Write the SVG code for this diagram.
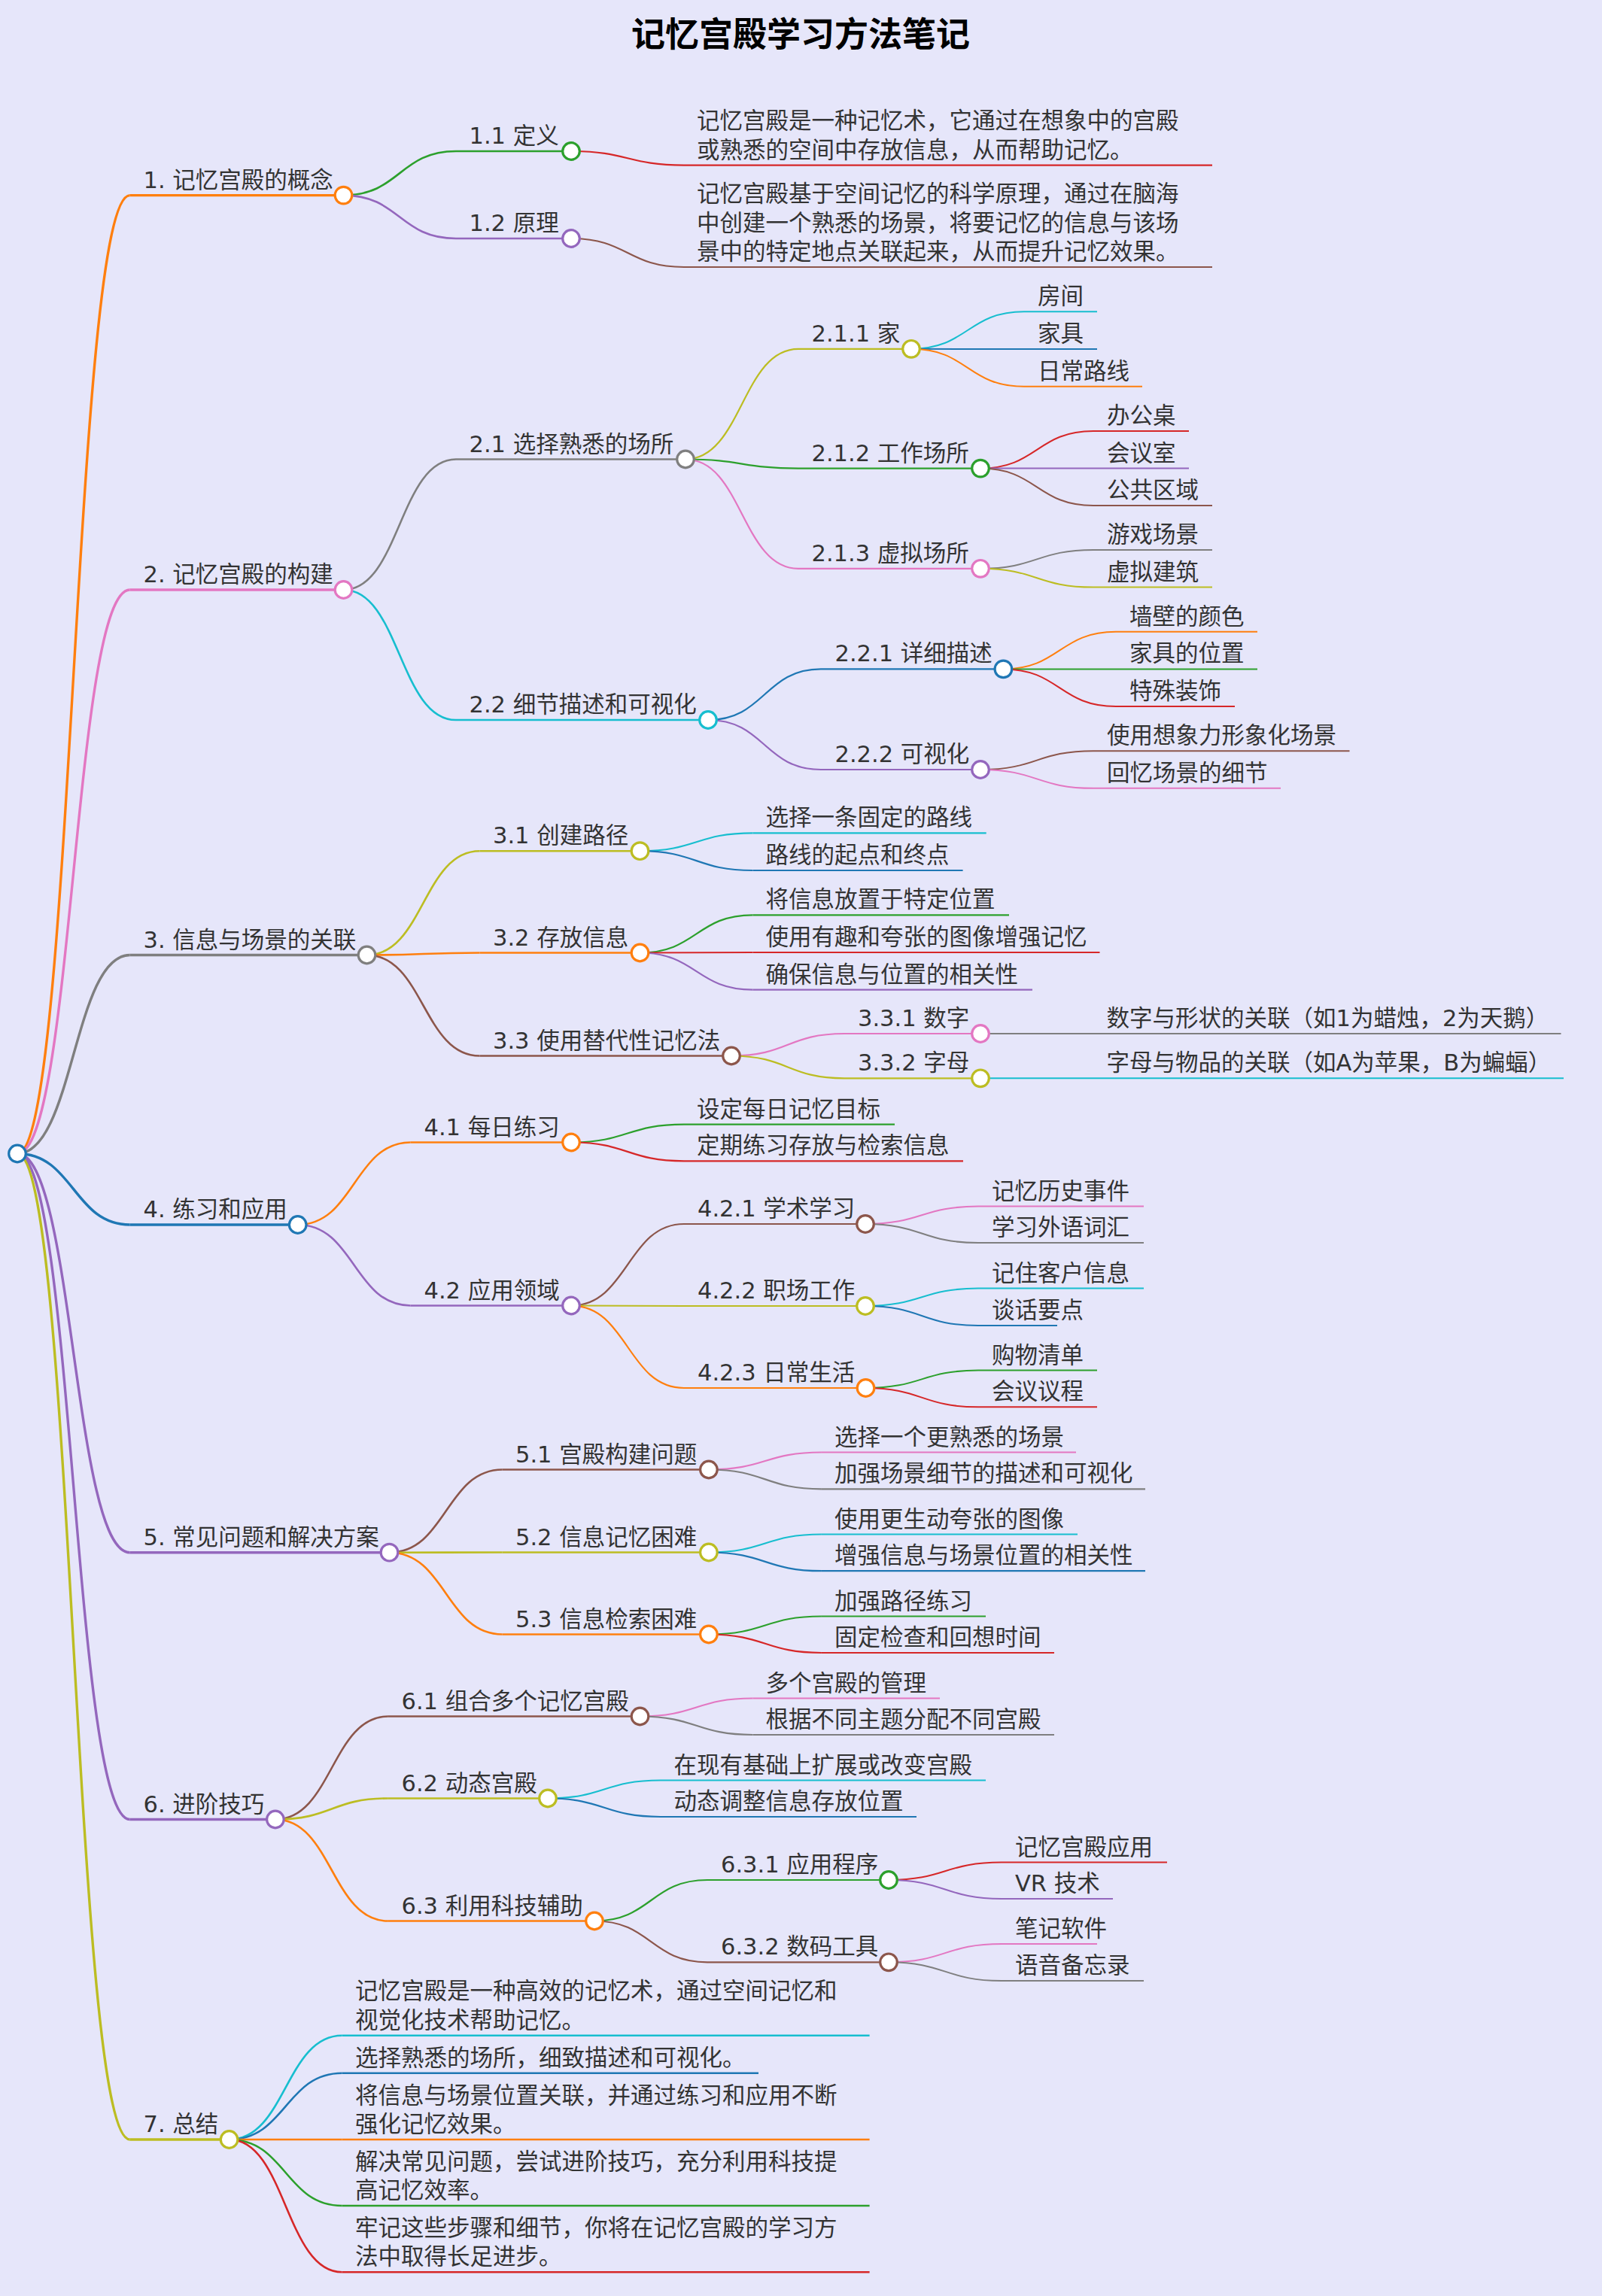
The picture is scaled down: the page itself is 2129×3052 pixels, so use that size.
<svg xmlns="http://www.w3.org/2000/svg" width="2129" height="3052" viewBox="0 0 2129 3052">
<style>
.b{stroke:#1f77b4}.o{stroke:#ff7f0e}.g{stroke:#2ca02c}.r{stroke:#d62728}.p{stroke:#9467bd}.n{stroke:#8c564b}.k{stroke:#e377c2}.y{stroke:#7f7f7f}.l{stroke:#bcbd22}.a{stroke:#17becf}
.d1{stroke-width:3.4}.d2{stroke-width:2.6}.d3{stroke-width:2.2}.d4{stroke-width:2}
path,line{fill:none}
circle{fill:#fff;stroke-width:3.2}
text{font-family:"DejaVu Sans","Noto Sans CJK SC",sans-serif;font-size:30.5px;fill:#333}
.title{font-size:45px;font-weight:700;fill:#000;text-anchor:middle}
</style>
<rect width="2129" height="3052" fill="#e6e6fa"/>
<text class="title" x="1064" y="62">记忆宫殿学习方法笔记</text>
<g id="connectors">
<path class="o d1" d="M23 1533.5C97.7 1533.5 97.7 259.6 172.7 259.6"/>
<path class="k d1" d="M23 1533.5C97.7 1533.5 97.7 784 172.7 784"/>
<path class="y d1" d="M23 1533.5C97.7 1533.5 97.7 1269.5 172.7 1269.5"/>
<path class="b d1" d="M23 1533.5C97.7 1533.5 97.7 1628 172.7 1628"/>
<path class="p d1" d="M23 1533.5C97.7 1533.5 97.7 2063.7 172.7 2063.7"/>
<path class="p d1" d="M23 1533.5C97.7 1533.5 97.7 2418.5 172.7 2418.5"/>
<path class="l d1" d="M23 1533.5C97.7 1533.5 97.7 2844 172.7 2844"/>
<path class="g d2" d="M456.5 259.6C531 259.6 531 201 606 201"/>
<path class="p d2" d="M456.5 259.6C531 259.6 531 317 606 317"/>
<path class="r d3" d="M759 201C834 201 834 219.6 909 219.6"/>
<path class="n d3" d="M759 317C834 317 834 355 909 355"/>
<path class="y d2" d="M456.5 784C531 784 531 610.5 606 610.5"/>
<path class="a d2" d="M456.5 784C531 784 531 957 606 957"/>
<path class="l d3" d="M911 610.5C986 610.5 986 463.8 1061 463.8"/>
<path class="g d3" d="M911 610.5C986 610.5 986 622.6 1061 622.6"/>
<path class="k d3" d="M911 610.5C986 610.5 986 755.8 1061 755.8"/>
<path class="a d4" d="M1211 463.8C1286 463.8 1286 414.2 1361 414.2"/>
<path class="b d4" d="M1211 463.8C1286 463.8 1286 464 1361 464"/>
<path class="o d4" d="M1211 463.8C1286 463.8 1286 513.8 1361 513.8"/>
<path class="r d4" d="M1303 622.6C1378 622.6 1378 573 1453 573"/>
<path class="p d4" d="M1303 622.6C1378 622.6 1378 622.6 1453 622.6"/>
<path class="n d4" d="M1303 622.6C1378 622.6 1378 672 1453 672"/>
<path class="y d4" d="M1303 755.8C1378 755.8 1378 731 1453 731"/>
<path class="l d4" d="M1303 755.8C1378 755.8 1378 780.6 1453 780.6"/>
<path class="b d3" d="M941 957C1016 957 1016 889.4 1091 889.4"/>
<path class="p d3" d="M941 957C1016 957 1016 1023 1091 1023"/>
<path class="o d4" d="M1333.4 889.4C1408 889.4 1408 839.8 1483 839.8"/>
<path class="g d4" d="M1333.4 889.4C1408 889.4 1408 889.4 1483 889.4"/>
<path class="r d4" d="M1333.4 889.4C1408 889.4 1408 939 1483 939"/>
<path class="n d4" d="M1303 1023C1378 1023 1378 998.2 1453 998.2"/>
<path class="k d4" d="M1303 1023C1378 1023 1378 1047.8 1453 1047.8"/>
<path class="l d2" d="M487.5 1269.5C562.5 1269.5 562.5 1131.2 637.5 1131.2"/>
<path class="o d2" d="M487.5 1269.5C562.5 1269.5 562.5 1266.5 637.5 1266.5"/>
<path class="n d2" d="M487.5 1269.5C562.5 1269.5 562.5 1403.5 637.5 1403.5"/>
<path class="a d3" d="M850.5 1131.2C925.5 1131.2 925.5 1107.3 1000.5 1107.3"/>
<path class="b d3" d="M850.5 1131.2C925.5 1131.2 925.5 1157 1000.5 1157"/>
<path class="g d3" d="M850.5 1266.5C925.5 1266.5 925.5 1216.3 1000.5 1216.3"/>
<path class="r d3" d="M850.5 1266.5C925.5 1266.5 925.5 1266 1000.5 1266"/>
<path class="p d3" d="M850.5 1266.5C925.5 1266.5 925.5 1315.6 1000.5 1315.6"/>
<path class="k d3" d="M972 1403.5C1047 1403.5 1047 1374 1122 1374"/>
<path class="l d3" d="M972 1403.5C1047 1403.5 1047 1433.3 1122 1433.3"/>
<path class="y d4" d="M1303 1374H1453"/>
<path class="a d4" d="M1303 1433.3H1453"/>
<path class="o d2" d="M395.7 1628C470.7 1628 470.7 1518.5 545.7 1518.5"/>
<path class="p d2" d="M395.7 1628C470.7 1628 470.7 1735.5 545.7 1735.5"/>
<path class="g d3" d="M759 1518.5C834 1518.5 834 1494.6 909 1494.6"/>
<path class="r d3" d="M759 1518.5C834 1518.5 834 1543.3 909 1543.3"/>
<path class="n d3" d="M759 1735.5C834 1735.5 834 1627 909 1627"/>
<path class="l d3" d="M759 1735.5C834 1735.5 834 1736 909 1736"/>
<path class="o d3" d="M759 1735.5C834 1735.5 834 1845 909 1845"/>
<path class="k d4" d="M1150 1627C1225 1627 1225 1603.6 1300 1603.6"/>
<path class="y d4" d="M1150 1627C1225 1627 1225 1652 1300 1652"/>
<path class="a d4" d="M1150 1736C1225 1736 1225 1712.6 1300 1712.6"/>
<path class="b d4" d="M1150 1736C1225 1736 1225 1762 1300 1762"/>
<path class="g d4" d="M1150.5 1845C1225 1845 1225 1821.6 1300 1821.6"/>
<path class="r d4" d="M1150.5 1845C1225 1845 1225 1870.3 1300 1870.3"/>
<path class="n d2" d="M517.5 2063.7C592.7 2063.7 592.7 1953.5 667.7 1953.5"/>
<path class="l d2" d="M517.5 2063.7C592.7 2063.7 592.7 2063.5 667.7 2063.5"/>
<path class="o d2" d="M517.5 2063.7C592.7 2063.7 592.7 2172.5 667.7 2172.5"/>
<path class="k d3" d="M941.9 1953.5C1016.9 1953.5 1016.9 1930.5 1091.9 1930.5"/>
<path class="y d3" d="M941.9 1953.5C1016.9 1953.5 1016.9 1979.3 1091.9 1979.3"/>
<path class="a d3" d="M941.9 2063.5C1016.9 2063.5 1016.9 2039.5 1091.9 2039.5"/>
<path class="b d3" d="M941.9 2063.5C1016.9 2063.5 1016.9 2088.2 1091.9 2088.2"/>
<path class="g d3" d="M941.9 2172.5C1016.9 2172.5 1016.9 2148.5 1091.9 2148.5"/>
<path class="r d3" d="M941.9 2172.5C1016.9 2172.5 1016.9 2197 1091.9 2197"/>
<path class="n d2" d="M365.9 2418.5C440.9 2418.5 440.9 2281.5 515.9 2281.5"/>
<path class="l d2" d="M365.9 2418.5C440.9 2418.5 440.9 2390.5 515.9 2390.5"/>
<path class="o d2" d="M365.9 2418.5C440.9 2418.5 440.9 2553.5 515.9 2553.5"/>
<path class="k d3" d="M850.5 2281.5C925.5 2281.5 925.5 2257.5 1000.5 2257.5"/>
<path class="y d3" d="M850.5 2281.5C925.5 2281.5 925.5 2306 1000.5 2306"/>
<path class="a d3" d="M728 2390.5C803 2390.5 803 2366.5 878 2366.5"/>
<path class="b d3" d="M728 2390.5C803 2390.5 803 2415 878 2415"/>
<path class="g d3" d="M790 2553.5C865 2553.5 865 2499 940 2499"/>
<path class="n d3" d="M790 2553.5C865 2553.5 865 2608.3 940 2608.3"/>
<path class="r d4" d="M1181 2499C1256 2499 1256 2475.5 1331 2475.5"/>
<path class="p d4" d="M1181 2499C1256 2499 1256 2524 1331 2524"/>
<path class="k d4" d="M1181 2608.3C1256 2608.3 1256 2584 1331 2584"/>
<path class="y d4" d="M1181 2608.3C1256 2608.3 1256 2633 1331 2633"/>
<path class="a d2" d="M304.6 2844C379.6 2844 379.6 2705.7 454.6 2705.7"/>
<path class="b d2" d="M304.6 2844C379.6 2844 379.6 2755.7 454.6 2755.7"/>
<path class="o d2" d="M304.6 2844C379.6 2844 379.6 2844 454.6 2844"/>
<path class="g d2" d="M304.6 2844C379.6 2844 379.6 2932 454.6 2932"/>
<path class="r d2" d="M304.6 2844C379.6 2844 379.6 3020.3 454.6 3020.3"/>
</g>
<g id="root"><circle class="b" cx="23" cy="1533.5" r="11.3"/></g>
<g id="n1"><line class="o d1" x1="172.7" y1="259.6" x2="456.5" y2="259.6"/><text x="190.5" y="249.6">1. 记忆宫殿的概念</text><circle class="o" cx="456.5" cy="259.6" r="11.3"/></g>
<g id="n1-1"><line class="g d2" x1="606" y1="201" x2="759" y2="201"/><text x="623.5" y="191">1.1 定义</text><circle class="g" cx="759" cy="201" r="11.3"/></g>
<g id="n1-1-1"><line class="r d3" x1="909" y1="219.6" x2="1611" y2="219.6"/><text y="209.6"><tspan x="926" dy="-38.4">记忆宫殿是一种记忆术，它通过在想象中的宫殿</tspan><tspan x="926" dy="38.4">或熟悉的空间中存放信息，从而帮助记忆。</tspan></text></g>
<g id="n1-2"><line class="p d2" x1="606" y1="317" x2="759" y2="317"/><text x="623.5" y="307">1.2 原理</text><circle class="p" cx="759" cy="317" r="11.3"/></g>
<g id="n1-2-1"><line class="n d3" x1="909" y1="355" x2="1611" y2="355"/><text y="345"><tspan x="926" dy="-76.8">记忆宫殿基于空间记忆的科学原理，通过在脑海</tspan><tspan x="926" dy="38.4">中创建一个熟悉的场景，将要记忆的信息与该场</tspan><tspan x="926" dy="38.4">景中的特定地点关联起来，从而提升记忆效果。</tspan></text></g>
<g id="n2"><line class="k d1" x1="172.7" y1="784" x2="456.5" y2="784"/><text x="190.5" y="774">2. 记忆宫殿的构建</text><circle class="k" cx="456.5" cy="784" r="11.3"/></g>
<g id="n2-1"><line class="y d2" x1="606" y1="610.5" x2="911" y2="610.5"/><text x="623.5" y="600.5">2.1 选择熟悉的场所</text><circle class="y" cx="911" cy="610.5" r="11.3"/></g>
<g id="n2-1-1"><line class="l d3" x1="1061" y1="463.8" x2="1211" y2="463.8"/><text x="1078.5" y="453.8">2.1.1 家</text><circle class="l" cx="1211" cy="463.8" r="11.3"/></g>
<g id="n2-1-1-1"><line class="a d4" x1="1361" y1="414.2" x2="1458" y2="414.2"/><text x="1379" y="404.2">房间</text></g>
<g id="n2-1-1-2"><line class="b d4" x1="1361" y1="464" x2="1458" y2="464"/><text x="1379" y="454">家具</text></g>
<g id="n2-1-1-3"><line class="o d4" x1="1361" y1="513.8" x2="1518" y2="513.8"/><text x="1379" y="503.8">日常路线</text></g>
<g id="n2-1-2"><line class="g d3" x1="1061" y1="622.6" x2="1303" y2="622.6"/><text x="1078.5" y="612.6">2.1.2 工作场所</text><circle class="g" cx="1303" cy="622.6" r="11.3"/></g>
<g id="n2-1-2-1"><line class="r d4" x1="1453" y1="573" x2="1580" y2="573"/><text x="1471" y="563">办公桌</text></g>
<g id="n2-1-2-2"><line class="p d4" x1="1453" y1="622.6" x2="1580" y2="622.6"/><text x="1471" y="612.6">会议室</text></g>
<g id="n2-1-2-3"><line class="n d4" x1="1453" y1="672" x2="1611" y2="672"/><text x="1471" y="662">公共区域</text></g>
<g id="n2-1-3"><line class="k d3" x1="1061" y1="755.8" x2="1303" y2="755.8"/><text x="1078.5" y="745.8">2.1.3 虚拟场所</text><circle class="k" cx="1303" cy="755.8" r="11.3"/></g>
<g id="n2-1-3-1"><line class="y d4" x1="1453" y1="731" x2="1611" y2="731"/><text x="1471" y="721">游戏场景</text></g>
<g id="n2-1-3-2"><line class="l d4" x1="1453" y1="780.6" x2="1611" y2="780.6"/><text x="1471" y="770.6">虚拟建筑</text></g>
<g id="n2-2"><line class="a d2" x1="606" y1="957" x2="941" y2="957"/><text x="623.5" y="947">2.2 细节描述和可视化</text><circle class="a" cx="941" cy="957" r="11.3"/></g>
<g id="n2-2-1"><line class="b d3" x1="1091" y1="889.4" x2="1333.4" y2="889.4"/><text x="1109.5" y="879.4">2.2.1 详细描述</text><circle class="b" cx="1333.4" cy="889.4" r="11.3"/></g>
<g id="n2-2-1-1"><line class="o d4" x1="1483" y1="839.8" x2="1671" y2="839.8"/><text x="1501" y="829.8">墙壁的颜色</text></g>
<g id="n2-2-1-2"><line class="g d4" x1="1483" y1="889.4" x2="1671" y2="889.4"/><text x="1501" y="879.4">家具的位置</text></g>
<g id="n2-2-1-3"><line class="r d4" x1="1483" y1="939" x2="1641" y2="939"/><text x="1501" y="929">特殊装饰</text></g>
<g id="n2-2-2"><line class="p d3" x1="1091" y1="1023" x2="1303" y2="1023"/><text x="1109.5" y="1013">2.2.2 可视化</text><circle class="p" cx="1303" cy="1023" r="11.3"/></g>
<g id="n2-2-2-1"><line class="n d4" x1="1453" y1="998.2" x2="1793.5" y2="998.2"/><text x="1471" y="988.2">使用想象力形象化场景</text></g>
<g id="n2-2-2-2"><line class="k d4" x1="1453" y1="1047.8" x2="1702" y2="1047.8"/><text x="1471" y="1037.8">回忆场景的细节</text></g>
<g id="n3"><line class="y d1" x1="172.7" y1="1269.5" x2="487.5" y2="1269.5"/><text x="190.5" y="1259.5">3. 信息与场景的关联</text><circle class="y" cx="487.5" cy="1269.5" r="11.3"/></g>
<g id="n3-1"><line class="l d2" x1="637.5" y1="1131.2" x2="850.5" y2="1131.2"/><text x="655" y="1121.2">3.1 创建路径</text><circle class="l" cx="850.5" cy="1131.2" r="11.3"/></g>
<g id="n3-1-1"><line class="a d3" x1="1000.5" y1="1107.3" x2="1310.7" y2="1107.3"/><text x="1017.5" y="1097.3">选择一条固定的路线</text></g>
<g id="n3-1-2"><line class="b d3" x1="1000.5" y1="1157" x2="1279.6" y2="1157"/><text x="1017.5" y="1147">路线的起点和终点</text></g>
<g id="n3-2"><line class="o d2" x1="637.5" y1="1266.5" x2="850.5" y2="1266.5"/><text x="655" y="1256.5">3.2 存放信息</text><circle class="o" cx="850.5" cy="1266.5" r="11.3"/></g>
<g id="n3-2-1"><line class="g d3" x1="1000.5" y1="1216.3" x2="1341" y2="1216.3"/><text x="1017.5" y="1206.3">将信息放置于特定位置</text></g>
<g id="n3-2-2"><line class="r d3" x1="1000.5" y1="1266" x2="1461.5" y2="1266"/><text x="1017.5" y="1256">使用有趣和夸张的图像增强记忆</text></g>
<g id="n3-2-3"><line class="p d3" x1="1000.5" y1="1315.6" x2="1372" y2="1315.6"/><text x="1017.5" y="1305.6">确保信息与位置的相关性</text></g>
<g id="n3-3"><line class="n d2" x1="637.5" y1="1403.5" x2="972" y2="1403.5"/><text x="655" y="1393.5">3.3 使用替代性记忆法</text><circle class="n" cx="972" cy="1403.5" r="11.3"/></g>
<g id="n3-3-1"><line class="k d3" x1="1122" y1="1374" x2="1303" y2="1374"/><text x="1140" y="1364">3.3.1 数字</text><circle class="k" cx="1303" cy="1374" r="11.3"/></g>
<g id="n3-3-1-1"><line class="y d4" x1="1453" y1="1374" x2="2074.5" y2="1374"/><text x="1470.5" y="1364">数字与形状的关联（如1为蜡烛，2为天鹅）</text></g>
<g id="n3-3-2"><line class="l d3" x1="1122" y1="1433.3" x2="1303" y2="1433.3"/><text x="1140" y="1423.3">3.3.2 字母</text><circle class="l" cx="1303" cy="1433.3" r="11.3"/></g>
<g id="n3-3-2-1"><line class="a d4" x1="1453" y1="1433.3" x2="2078" y2="1433.3"/><text x="1470.5" y="1423.3">字母与物品的关联（如A为苹果，B为蝙蝠）</text></g>
<g id="n4"><line class="b d1" x1="172.7" y1="1628" x2="395.7" y2="1628"/><text x="190.5" y="1618">4. 练习和应用</text><circle class="b" cx="395.7" cy="1628" r="11.3"/></g>
<g id="n4-1"><line class="o d2" x1="545.7" y1="1518.5" x2="759" y2="1518.5"/><text x="563.5" y="1508.5">4.1 每日练习</text><circle class="o" cx="759" cy="1518.5" r="11.3"/></g>
<g id="n4-1-1"><line class="g d3" x1="909" y1="1494.6" x2="1189" y2="1494.6"/><text x="926" y="1484.6">设定每日记忆目标</text></g>
<g id="n4-1-2"><line class="r d3" x1="909" y1="1543.3" x2="1280" y2="1543.3"/><text x="926" y="1533.3">定期练习存放与检索信息</text></g>
<g id="n4-2"><line class="p d2" x1="545.7" y1="1735.5" x2="759" y2="1735.5"/><text x="563.5" y="1725.5">4.2 应用领域</text><circle class="p" cx="759" cy="1735.5" r="11.3"/></g>
<g id="n4-2-1"><line class="n d3" x1="909" y1="1627" x2="1150" y2="1627"/><text x="927" y="1617">4.2.1 学术学习</text><circle class="n" cx="1150" cy="1627" r="11.3"/></g>
<g id="n4-2-1-1"><line class="k d4" x1="1300" y1="1603.6" x2="1520" y2="1603.6"/><text x="1318" y="1593.6">记忆历史事件</text></g>
<g id="n4-2-1-2"><line class="y d4" x1="1300" y1="1652" x2="1520" y2="1652"/><text x="1318" y="1642">学习外语词汇</text></g>
<g id="n4-2-2"><line class="l d3" x1="909" y1="1736" x2="1150" y2="1736"/><text x="927" y="1726">4.2.2 职场工作</text><circle class="l" cx="1150" cy="1736" r="11.3"/></g>
<g id="n4-2-2-1"><line class="a d4" x1="1300" y1="1712.6" x2="1520" y2="1712.6"/><text x="1318" y="1702.6">记住客户信息</text></g>
<g id="n4-2-2-2"><line class="b d4" x1="1300" y1="1762" x2="1405" y2="1762"/><text x="1318" y="1752">谈话要点</text></g>
<g id="n4-2-3"><line class="o d3" x1="909" y1="1845" x2="1150.5" y2="1845"/><text x="927" y="1835">4.2.3 日常生活</text><circle class="o" cx="1150.5" cy="1845" r="11.3"/></g>
<g id="n4-2-3-1"><line class="g d4" x1="1300" y1="1821.6" x2="1458" y2="1821.6"/><text x="1318" y="1811.6">购物清单</text></g>
<g id="n4-2-3-2"><line class="r d4" x1="1300" y1="1870.3" x2="1458" y2="1870.3"/><text x="1318" y="1860.3">会议议程</text></g>
<g id="n5"><line class="p d1" x1="172.7" y1="2063.7" x2="517.5" y2="2063.7"/><text x="190.5" y="2053.7">5. 常见问题和解决方案</text><circle class="p" cx="517.5" cy="2063.7" r="11.3"/></g>
<g id="n5-1"><line class="n d2" x1="667.7" y1="1953.5" x2="941.9" y2="1953.5"/><text x="685" y="1943.5">5.1 宫殿构建问题</text><circle class="n" cx="941.9" cy="1953.5" r="11.3"/></g>
<g id="n5-1-1"><line class="k d3" x1="1091.9" y1="1930.5" x2="1430" y2="1930.5"/><text x="1109" y="1920.5">选择一个更熟悉的场景</text></g>
<g id="n5-1-2"><line class="y d3" x1="1091.9" y1="1979.3" x2="1522" y2="1979.3"/><text x="1109" y="1969.3">加强场景细节的描述和可视化</text></g>
<g id="n5-2"><line class="l d2" x1="667.7" y1="2063.5" x2="941.9" y2="2063.5"/><text x="685" y="2053.5">5.2 信息记忆困难</text><circle class="l" cx="941.9" cy="2063.5" r="11.3"/></g>
<g id="n5-2-1"><line class="a d3" x1="1091.9" y1="2039.5" x2="1432" y2="2039.5"/><text x="1109" y="2029.5">使用更生动夸张的图像</text></g>
<g id="n5-2-2"><line class="b d3" x1="1091.9" y1="2088.2" x2="1522" y2="2088.2"/><text x="1109" y="2078.2">增强信息与场景位置的相关性</text></g>
<g id="n5-3"><line class="o d2" x1="667.7" y1="2172.5" x2="941.9" y2="2172.5"/><text x="685" y="2162.5">5.3 信息检索困难</text><circle class="o" cx="941.9" cy="2172.5" r="11.3"/></g>
<g id="n5-3-1"><line class="g d3" x1="1091.9" y1="2148.5" x2="1310" y2="2148.5"/><text x="1109" y="2138.5">加强路径练习</text></g>
<g id="n5-3-2"><line class="r d3" x1="1091.9" y1="2197" x2="1401" y2="2197"/><text x="1109" y="2187">固定检查和回想时间</text></g>
<g id="n6"><line class="p d1" x1="172.7" y1="2418.5" x2="365.9" y2="2418.5"/><text x="190.5" y="2408.5">6. 进阶技巧</text><circle class="p" cx="365.9" cy="2418.5" r="11.3"/></g>
<g id="n6-1"><line class="n d2" x1="515.9" y1="2281.5" x2="850.5" y2="2281.5"/><text x="533.5" y="2271.5">6.1 组合多个记忆宫殿</text><circle class="n" cx="850.5" cy="2281.5" r="11.3"/></g>
<g id="n6-1-1"><line class="k d3" x1="1000.5" y1="2257.5" x2="1249" y2="2257.5"/><text x="1017.5" y="2247.5">多个宫殿的管理</text></g>
<g id="n6-1-2"><line class="y d3" x1="1000.5" y1="2306" x2="1401" y2="2306"/><text x="1017.5" y="2296">根据不同主题分配不同宫殿</text></g>
<g id="n6-2"><line class="l d2" x1="515.9" y1="2390.5" x2="728" y2="2390.5"/><text x="533.5" y="2380.5">6.2 动态宫殿</text><circle class="l" cx="728" cy="2390.5" r="11.3"/></g>
<g id="n6-2-1"><line class="a d3" x1="878" y1="2366.5" x2="1310" y2="2366.5"/><text x="895.5" y="2356.5">在现有基础上扩展或改变宫殿</text></g>
<g id="n6-2-2"><line class="b d3" x1="878" y1="2415" x2="1218" y2="2415"/><text x="895.5" y="2405">动态调整信息存放位置</text></g>
<g id="n6-3"><line class="o d2" x1="515.9" y1="2553.5" x2="790" y2="2553.5"/><text x="533.5" y="2543.5">6.3 利用科技辅助</text><circle class="o" cx="790" cy="2553.5" r="11.3"/></g>
<g id="n6-3-1"><line class="g d3" x1="940" y1="2499" x2="1181" y2="2499"/><text x="958" y="2489">6.3.1 应用程序</text><circle class="g" cx="1181" cy="2499" r="11.3"/></g>
<g id="n6-3-1-1"><line class="r d4" x1="1331" y1="2475.5" x2="1551" y2="2475.5"/><text x="1349" y="2465.5">记忆宫殿应用</text></g>
<g id="n6-3-1-2"><line class="p d4" x1="1331" y1="2524" x2="1479" y2="2524"/><text x="1349" y="2514">VR 技术</text></g>
<g id="n6-3-2"><line class="n d3" x1="940" y1="2608.3" x2="1181" y2="2608.3"/><text x="958" y="2598.3">6.3.2 数码工具</text><circle class="n" cx="1181" cy="2608.3" r="11.3"/></g>
<g id="n6-3-2-1"><line class="k d4" x1="1331" y1="2584" x2="1458" y2="2584"/><text x="1349" y="2574">笔记软件</text></g>
<g id="n6-3-2-2"><line class="y d4" x1="1331" y1="2633" x2="1520" y2="2633"/><text x="1349" y="2623">语音备忘录</text></g>
<g id="n7"><line class="l d1" x1="172.7" y1="2844" x2="304.6" y2="2844"/><text x="190.5" y="2834">7. 总结</text><circle class="l" cx="304.6" cy="2844" r="11.3"/></g>
<g id="n7-1"><line class="a d2" x1="454.6" y1="2705.7" x2="1155.6" y2="2705.7"/><text y="2695.7"><tspan x="472" dy="-38.4">记忆宫殿是一种高效的记忆术，通过空间记忆和</tspan><tspan x="472" dy="38.4">视觉化技术帮助记忆。</tspan></text></g>
<g id="n7-2"><line class="b d2" x1="454.6" y1="2755.7" x2="1008" y2="2755.7"/><text x="472" y="2745.7">选择熟悉的场所，细致描述和可视化。</text></g>
<g id="n7-3"><line class="o d2" x1="454.6" y1="2844" x2="1155.6" y2="2844"/><text y="2834"><tspan x="472" dy="-38.4">将信息与场景位置关联，并通过练习和应用不断</tspan><tspan x="472" dy="38.4">强化记忆效果。</tspan></text></g>
<g id="n7-4"><line class="g d2" x1="454.6" y1="2932" x2="1155.6" y2="2932"/><text y="2922"><tspan x="472" dy="-38.4">解决常见问题，尝试进阶技巧，充分利用科技提</tspan><tspan x="472" dy="38.4">高记忆效率。</tspan></text></g>
<g id="n7-5"><line class="r d2" x1="454.6" y1="3020.3" x2="1155.6" y2="3020.3"/><text y="3010.3"><tspan x="472" dy="-38.4">牢记这些步骤和细节，你将在记忆宫殿的学习方</tspan><tspan x="472" dy="38.4">法中取得长足进步。</tspan></text></g>
</svg>
